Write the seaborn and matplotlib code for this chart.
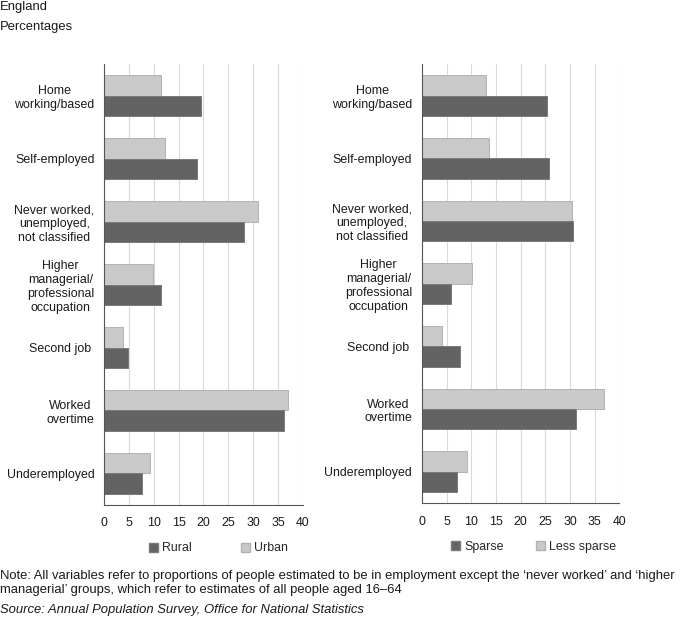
import matplotlib
matplotlib.use("Agg")
import matplotlib.pyplot as plt
from matplotlib.patches import Patch
import numpy as np
import pandas as pd
import seaborn as sns

# ── Data ──────────────────────────────────────────────────────────────────────
categories = [
    "Home\nworking/based",
    "Self-employed",
    "Never worked,\nunemployed,\nnot classified",
    "Higher\nmanagerial/\nprofessional\noccupation",
    "Second job ",
    "Worked\novertime",
    "Underemployed",
]
rural = [19.6, 18.8, 28.1, 11.5, 4.9, 36.2, 7.7]
urban = [11.5, 12.3, 31.0, 9.9, 3.8, 37.1, 9.3]
sparse = [25.4, 25.8, 30.7, 5.9, 7.7, 31.3, 7.2]
less_sparse = [13.0, 13.6, 30.4, 10.2, 4.1, 37.0, 9.1]
x_ticks = [0, 5, 10, 15, 20, 25, 30, 35, 40]

DARK = "#636363"
LIGHT = "#c9c9c9"
FS = 8.9

sns.set_style("white")
plt.rcParams["font.family"] = ["Liberation Sans", "DejaVu Sans"]
plt.rcParams["font.size"] = FS


def long_frame(dark_name, dark_vals, light_name, light_vals):
    rows = []
    for c, d, l in zip(categories, dark_vals, light_vals):
        rows.append({"category": c, "group": light_name, "value": l})
        rows.append({"category": c, "group": dark_name, "value": d})
    return pd.DataFrame(rows)


def draw_panel(ax, df, dark_name, light_name, colspace, leg_x):
    sns.barplot(
        data=df, y="category", x="value", hue="group",
        order=categories, hue_order=[light_name, dark_name],
        palette={light_name: LIGHT, dark_name: DARK},
        orient="h", width=0.65, saturation=1, ax=ax, legend=False,
    )
    for p in ax.patches:
        fc = p.get_facecolor()
        if fc[0] > 0.6:
            p.set_edgecolor("#b2b2b2")
        else:
            p.set_edgecolor("#7a7a7a")
        p.set_linewidth(0.7)

    ax.set_xlim(0, 40)
    ax.set_ylim(len(categories) - 0.5, -0.5)
    ax.set_xticks(x_ticks)
    ax.xaxis.grid(True, color="#d9d9d9", linewidth=0.8)
    ax.set_axisbelow(True)
    ax.set_xlabel("")
    ax.set_ylabel("")
    for s in ["top", "right"]:
        ax.spines[s].set_visible(False)
    for s in ["left", "bottom"]:
        ax.spines[s].set_color("#555555")
        ax.spines[s].set_linewidth(0.8)

    ax.set_yticks(range(len(categories)))
    ax.set_yticklabels(categories, ha="right", multialignment="center",
                       fontsize=FS, color="#1a1a1a", linespacing=1.2)
    ax.tick_params(axis="y", which="major", length=0, pad=7)
    ax.set_yticks(np.arange(-0.5, len(categories), 1.0), minor=True)
    ax.tick_params(axis="y", which="minor", length=4, color="#555555", width=0.8,
                   direction="out")
    ax.tick_params(axis="x", length=4, color="#555555", width=0.8,
                   direction="out", labelsize=FS, labelcolor="#1a1a1a", pad=5)

    handles = [Patch(facecolor=DARK, edgecolor="#7a7a7a", label=dark_name),
               Patch(facecolor=LIGHT, edgecolor="#b2b2b2", label=light_name)]
    ax.legend(handles=handles, loc="upper center", bbox_to_anchor=(leg_x, -0.06),
              ncol=2, frameon=False, fontsize=FS, handlelength=0.75,
              handleheight=0.75, handletextpad=0.3, columnspacing=colspace)


fig = plt.figure(figsize=(6.85, 6.18), dpi=100)
ax1 = fig.add_axes([0.152, 0.183, 0.290, 0.713])
ax2 = fig.add_axes([0.616, 0.186, 0.288, 0.710])

draw_panel(ax1, long_frame("Rural", rural, "Urban", urban), "Rural", "Urban",
           4.0, 0.575)
draw_panel(ax2, long_frame("Sparse", sparse, "Less sparse", less_sparse),
           "Sparse", "Less sparse", 2.6, 0.565)

FS_TXT = 9.4
fig.text(0.0, 0.999, "England", fontsize=FS_TXT, va="top", color="#1a1a1a")
fig.text(0.0, 0.966, "Percentages", fontsize=FS_TXT, va="top", color="#1a1a1a")
fig.text(0.0, 0.077,
         "Note: All variables refer to proportions of people estimated to be in "
         "employment except the \u2018never worked\u2019 and \u2018higher\n"
         "managerial\u2019 groups, which refer to estimates of all people aged 16\u201364",
         fontsize=FS_TXT, va="top", color="#1a1a1a", linespacing=1.22)
fig.text(0.0, 0.013, "Source: Annual Population Survey, Office for National Statistics",
         fontsize=FS_TXT, va="center", style="italic", color="#1a1a1a")

fig.savefig("out.png", dpi=100)
